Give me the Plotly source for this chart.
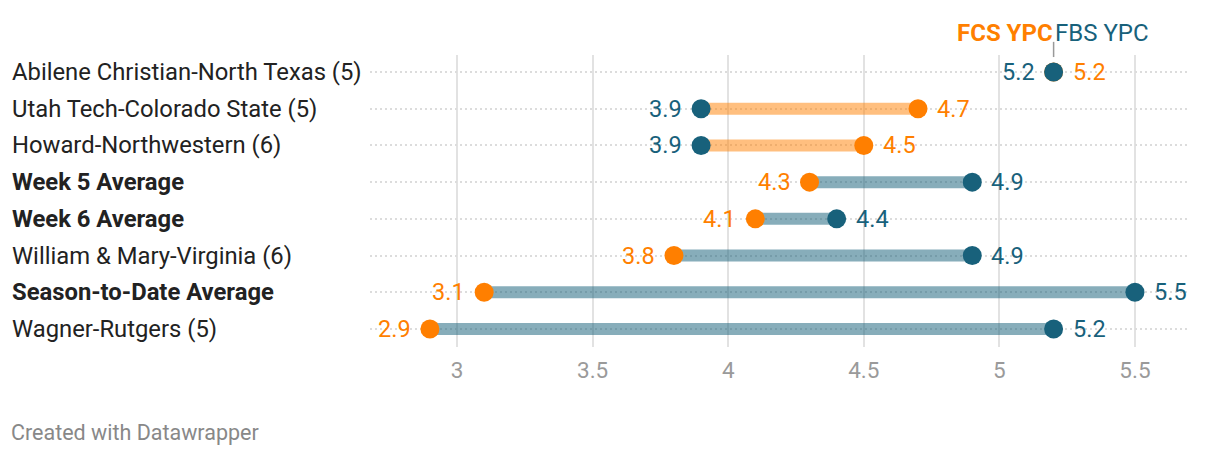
import plotly.graph_objects as go

categories = [
    "Abilene Christian-North Texas (5)",
    "Utah Tech-Colorado State (5)",
    "Howard-Northwestern (6)",
    "Week 5 Average",
    "Week 6 Average",
    "William & Mary-Virginia (6)",
    "Season-to-Date Average",
    "Wagner-Rutgers (5)",
]
bold_rows = ["Week 5 Average", "Week 6 Average", "Season-to-Date Average"]
fbs_ypc = [5.2, 3.9, 3.9, 4.9, 4.4, 4.9, 5.5, 5.2]
fcs_ypc = [5.2, 4.7, 4.5, 4.3, 4.1, 3.8, 3.1, 2.9]
x_ticks = [3, 3.5, 4, 4.5, 5, 5.5]

TEAL = "#18617b"
ORANGE = "#ff7f00"
TEAL_BAR = "rgba(24,97,123,0.52)"
ORANGE_BAR = "rgba(255,127,0,0.5)"
FONT = "Roboto"

fig = go.Figure()
rows = list(range(len(categories)))

# bars
for i, (b, c) in enumerate(zip(fbs_ypc, fcs_ypc)):
    if b == c:
        continue
    col = ORANGE_BAR if c > b else TEAL_BAR
    fig.add_trace(go.Scatter(x=[b, c], y=[i, i], mode="lines",
                             line=dict(color=col, width=12),
                             hoverinfo="skip", showlegend=False))

# dots
fig.add_trace(go.Scatter(x=fcs_ypc, y=rows, mode="markers",
                         marker=dict(color=ORANGE, size=19, line=dict(width=0)),
                         name="FCS YPC", showlegend=False))
fig.add_trace(go.Scatter(x=fbs_ypc, y=rows, mode="markers",
                         marker=dict(color=TEAL, size=19, line=dict(width=0)),
                         name="FBS YPC", showlegend=False))

annotations = []
# value labels
for i, (b, c) in enumerate(zip(fbs_ypc, fcs_ypc)):
    if b <= c:
        left_v, left_col, right_v, right_col = b, TEAL, c, ORANGE
    else:
        left_v, left_col, right_v, right_col = c, ORANGE, b, TEAL
    annotations.append(dict(x=left_v, y=i, xref="x", yref="y", text=f"{left_v:.1f}",
                            xanchor="right", xshift=-17, showarrow=False,
                            font=dict(family=FONT, size=23.5, color=left_col)))
    annotations.append(dict(x=right_v, y=i, xref="x", yref="y", text=f"{right_v:.1f}",
                            xanchor="left", xshift=17, showarrow=False,
                            font=dict(family=FONT, size=23.5, color=right_col)))

# category labels (left aligned)
for i, cat in enumerate(categories):
    txt = f"<b>{cat}</b>" if cat in bold_rows else cat
    annotations.append(dict(x=0, y=i, xref="paper", yref="y", text=txt,
                            xanchor="left", xshift=-360, showarrow=False,
                            font=dict(family=FONT, size=23.8, color="#222222")))

# legend header
annotations.append(dict(x=fbs_ypc[0], y=1.075, xref="x", yref="paper",
                        text="<b>FCS YPC</b>", xanchor="right", yanchor="middle",
                        showarrow=False, xshift=1,
                        font=dict(family=FONT, size=24, color=ORANGE)))
annotations.append(dict(x=fbs_ypc[0], y=1.075, xref="x", yref="paper",
                        text="FBS YPC", xanchor="left", yanchor="middle",
                        showarrow=False, xshift=-1,
                        font=dict(family=FONT, size=24, color=TEAL)))
annotations.append(dict(x=0, y=0, xref="paper", yref="paper",
                        text="Created with Datawrapper", xanchor="left", yanchor="middle",
                        xshift=-361, yshift=-85, showarrow=False,
                        font=dict(family=FONT, size=21.5, color="#888888")))

fig.add_shape(type="line", xref="x", yref="paper", x0=fbs_ypc[0], x1=fbs_ypc[0],
              y0=0.993, y1=1.045, line=dict(color="#999999", width=1.5))

fig.update_layout(
    width=1212, height=450,
    margin=dict(l=362, r=30, t=47, b=111),
    paper_bgcolor="white", plot_bgcolor="white",
    annotations=annotations,
    xaxis=dict(range=[2.679, 5.703], tickvals=x_ticks,
               ticktext=[str(t) for t in x_ticks],
               showgrid=True, gridcolor="#e2e2e2", gridwidth=2,
               zeroline=False, showline=False, ticks="",
               ticklabelstandoff=7,
               tickfont=dict(family=FONT, size=22.5, color="#9a9a9a")),
    yaxis=dict(range=[7.49, -0.463], tickvals=rows, showticklabels=False,
               showgrid=True, gridcolor="#dcdcdc", gridwidth=2, griddash="2px,3px",
               zeroline=False, showline=False, ticks=""),
    font=dict(family=FONT),
)

fig.write_html("out.html")
